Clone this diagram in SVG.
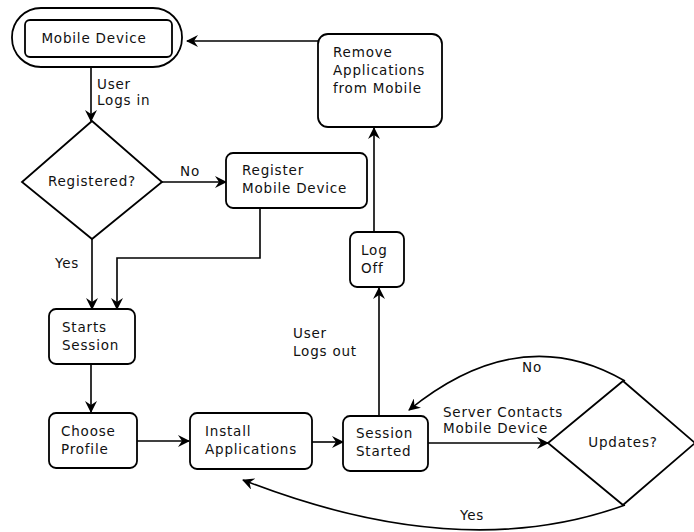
<svg xmlns="http://www.w3.org/2000/svg" width="694" height="532" viewBox="0 0 694 532">
<defs>
<style>
.box{fill:#fff;stroke:#000;stroke-width:1.8}
.ln{fill:none;stroke:#000;stroke-width:1.6}
text{font-family:"DejaVu Sans",Verdana,sans-serif;font-size:13.5px;letter-spacing:0.8px;fill:#111}
.c{text-anchor:middle}
</style>
<marker id="ar" viewBox="0 0 12 12" refX="11" refY="6" markerWidth="12" markerHeight="12" markerUnits="userSpaceOnUse" orient="auto">
<path d="M0,0 L12,6 L0,12 L4,6 z" fill="#000"/>
</marker>
</defs>
<rect width="694" height="532" fill="#fff"/>
<g id="connectors">
<line class="ln" x1="91" y1="57" x2="91" y2="121" marker-end="url(#ar)"/>
<line class="ln" x1="162" y1="182" x2="226" y2="182" marker-end="url(#ar)"/>
<line class="ln" x1="92" y1="239" x2="92" y2="309" marker-end="url(#ar)"/>
<polyline class="ln" points="260,208 260,258 117,258 117,309" marker-end="url(#ar)"/>
<line class="ln" x1="91" y1="364" x2="91" y2="412" marker-end="url(#ar)"/>
<line class="ln" x1="137" y1="441" x2="189" y2="441" marker-end="url(#ar)"/>
<line class="ln" x1="312" y1="442" x2="343" y2="442" marker-end="url(#ar)"/>
<line class="ln" x1="379" y1="416" x2="379" y2="288" marker-end="url(#ar)"/>
<line class="ln" x1="374" y1="232" x2="374" y2="128" marker-end="url(#ar)"/>
<line class="ln" x1="318" y1="41" x2="187" y2="41" marker-end="url(#ar)"/>
<line class="ln" x1="428" y1="443" x2="548" y2="443" marker-end="url(#ar)"/>
<path class="ln" d="M625,381 Q520,320 409,410" marker-end="url(#ar)"/>
<path class="ln" d="M625,505 Q460,565 243,480" marker-end="url(#ar)"/>
<text x="97" y="89">User</text>
<text x="97" y="105">Logs in</text>
<text x="180" y="176">No</text>
<text x="55" y="268">Yes</text>
<text x="293" y="338">User</text>
<text x="293" y="356">Logs out</text>
<text x="443" y="417">Server Contacts</text>
<text x="443" y="433">Mobile Device</text>
<text x="522" y="372">No</text>
<text x="460" y="520">Yes</text>
</g>
<g id="mobile-device">
<rect class="box" x="12" y="8" width="170" height="59" rx="29"/>
<rect class="box" x="25" y="20" width="147" height="37" rx="5"/>
<text class="c" x="94" y="43">Mobile Device</text>
</g>
<g id="registered">
<polygon class="box" points="92,121 162,182 92,239 22,182"/>
<text class="c" x="92" y="186">Registered?</text>
</g>
<g id="register-mobile-device">
<rect class="box" x="226" y="153" width="141" height="55" rx="7"/>
<text x="242" y="175">Register</text>
<text x="242" y="193">Mobile Device</text>
</g>
<g id="starts-session">
<rect class="box" x="49" y="309" width="86" height="55" rx="7"/>
<text x="62" y="332">Starts</text>
<text x="62" y="350">Session</text>
</g>
<g id="choose-profile">
<rect class="box" x="49" y="413" width="88" height="55" rx="7"/>
<text x="61" y="436">Choose</text>
<text x="61" y="454">Profile</text>
</g>
<g id="install-applications">
<rect class="box" x="190" y="413" width="122" height="56" rx="7"/>
<text x="205" y="436">Install</text>
<text x="205" y="454">Applications</text>
</g>
<g id="session-started">
<rect class="box" x="343" y="416" width="85" height="55" rx="7"/>
<text x="356" y="438">Session</text>
<text x="356" y="456">Started</text>
</g>
<g id="log-off">
<rect class="box" x="350" y="232" width="54" height="55" rx="7"/>
<text x="361" y="255">Log</text>
<text x="361" y="273">Off</text>
</g>
<g id="remove-applications">
<rect class="box" x="318" y="34" width="124" height="93" rx="10"/>
<text x="333" y="57">Remove</text>
<text x="333" y="75">Applications</text>
<text x="333" y="93">from Mobile</text>
</g>
<g id="updates">
<polygon class="box" points="623,381 695,443 623,505 548,443"/>
<text class="c" x="623" y="447">Updates?</text>
</g>
</svg>
